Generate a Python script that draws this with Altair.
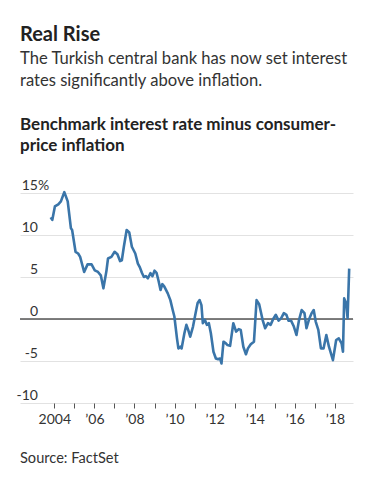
import altair as alt
import pandas as pd

TITLE = "Real Rise"
SUBTITLE = "The Turkish central bank has now set interest\nrates significantly above inflation."
HEADER = "Benchmark interest rate minus consumer-\nprice inflation"
SOURCE = "Source: FactSet"

years = [2003.82, 2003.90, 2004.03, 2004.20, 2004.33, 2004.50, 2004.67, 2004.83, 2004.89, 2005.06,
         2005.19, 2005.29, 2005.49, 2005.66, 2005.86, 2006.02, 2006.18, 2006.32, 2006.45, 2006.60,
         2006.68, 2006.85, 2007.01, 2007.15, 2007.28, 2007.37, 2007.47, 2007.61, 2007.74, 2007.87,
         2008.04, 2008.17, 2008.27, 2008.37, 2008.47, 2008.57, 2008.67, 2008.80, 2008.90, 2009.00,
         2009.10, 2009.20, 2009.30, 2009.39, 2009.49, 2009.66, 2009.79, 2009.91, 2009.99, 2010.12,
         2010.19, 2010.29, 2010.35, 2010.49, 2010.59, 2010.68, 2010.78, 2010.92, 2011.05, 2011.15,
         2011.25, 2011.34, 2011.41, 2011.51, 2011.61, 2011.71, 2011.81, 2011.94, 2012.06, 2012.17,
         2012.27, 2012.34, 2012.44, 2012.56, 2012.64, 2012.77, 2012.93, 2013.07, 2013.20, 2013.30,
         2013.43, 2013.56, 2013.66, 2013.80, 2013.96, 2014.09, 2014.22, 2014.39, 2014.52, 2014.66,
         2014.79, 2014.92, 2015.05, 2015.19, 2015.32, 2015.45, 2015.58, 2015.68, 2015.81, 2015.95,
         2016.08, 2016.21, 2016.34, 2016.48, 2016.58, 2016.70, 2016.84, 2016.94, 2017.04, 2017.17,
         2017.30, 2017.43, 2017.57, 2017.70, 2017.90, 2018.06, 2018.19, 2018.33, 2018.40, 2018.46,
         2018.56, 2018.63, 2018.71]
values = [12.1, 11.8, 13.4, 13.65, 14.0, 15.1, 14.0, 10.8, 10.6, 8.0,
          7.8, 7.4, 5.6, 6.5, 6.5, 5.8, 5.6, 5.2, 3.65, 5.7,
          7.2, 7.4, 8.0, 7.7, 6.9, 7.0, 8.6, 10.6, 10.3, 8.6,
          7.8, 6.6, 6.15, 5.5, 5.0, 5.1, 4.85, 5.45, 5.1, 5.75,
          5.5, 4.55, 3.45, 4.15, 3.85, 3.05, 2.25, 1.05, 0.3, -2.3,
          -3.5, -3.3, -3.5, -1.7, -0.7, -1.3, -2.1, -0.9, 0.7, 1.9,
          2.25, 1.65, -0.5, -0.1, -0.7, -0.5, -1.7, -3.9, -4.7, -4.8,
          -4.7, -5.3, -2.7, -2.9, -3.1, -3.2, -0.5, -1.5, -1.2, -1.3,
          -3.3, -4.2, -3.5, -3.0, -2.7, 2.25, 1.75, -0.1, -1.1, -0.5,
          -0.7, 0.0, 0.5, -0.2, 0.1, 0.7, 0.5, -0.2, -0.2, -0.9,
          -1.9, -0.1, 1.07, 0.7, -1.1, -0.1, 0.7, 1.07, -0.3, -1.3,
          -3.5, -3.5, -1.9, -3.3, -4.9, -2.5, -2.3, -2.9, -3.9, 2.45,
          1.85, 0.1, 6.0]

y_ticks = [-10, -5, 0, 5, 10, 15]
y_tick_labels = ["-10", "-5", "0", "5", "10", "15"]
x_ticks = list(range(2004, 2019))

FONT = "Lato"
TEXT = "#333333"
LINE = "#3a75a9"

df = pd.DataFrame({"year": years, "value": values})
ylab = pd.DataFrame({"v": y_ticks, "label": y_tick_labels})
pct = pd.DataFrame({"v": [y_ticks[-1]], "s": ["%"]})
zero = pd.DataFrame({"v": [0]})

xscale = alt.Scale(domain=[2002.29, 2018.9], nice=False, zero=False)
yscale = alt.Scale(domain=[-10, 15], nice=False, zero=False)

base_line = alt.Chart(df).mark_line(color=LINE, strokeWidth=2.6, strokeJoin="round").encode(
    x=alt.X("year:Q", scale=xscale,
            axis=alt.Axis(values=x_ticks, grid=False, domain=False, tickColor="#555555",
                          tickSize=5, tickWidth=1, labelPadding=4, labelFont=FONT,
                          labelFontSize=14, labelColor=TEXT, title=None, labelFlush=False,
                          labelOverlap=False,
                          labelExpr="datum.value == 2004 ? '2004' : (datum.value % 2 == 0 ? '\u2019' + slice(toString(datum.value), 2) : '')")),
    y=alt.Y("value:Q", scale=yscale,
            axis=alt.Axis(values=y_ticks, grid=True, gridColor="#e2e2e2", gridWidth=1,
                          labels=False, ticks=False, domain=False, title=None)),
)

zero_rule = alt.Chart(zero).mark_rule(color="#555555", strokeWidth=1.3).encode(y=alt.Y("v:Q", scale=yscale))

ylabels = alt.Chart(ylab).mark_text(align="right", baseline="alphabetic", dy=-3, font=FONT,
                                    fontSize=14, color=TEXT).encode(
    y=alt.Y("v:Q", scale=yscale), text="label:N", x=alt.value(18))
pct_lab = alt.Chart(pct).mark_text(align="left", baseline="alphabetic", dy=-3, font=FONT,
                                   fontSize=14, color=TEXT).encode(
    y=alt.Y("v:Q", scale=yscale), text="s:N", x=alt.value(18))

def txt(s, y, size, weight="normal", color=TEXT, lh=None):
    kw = dict(align="left", baseline="alphabetic", font=FONT, fontSize=size, fontWeight=weight,
              color=color, lineBreak="\n")
    if lh:
        kw["lineHeight"] = lh
    return alt.Chart(pd.DataFrame({"t": [s]})).mark_text(**kw).encode(
        text="t:N", x=alt.value(0), y=alt.value(y))

title = txt(TITLE, -152, 20, "bold", "#222222")
sub = txt(SUBTITLE, -129, 16.6, "normal", TEXT, 22)
head = txt(HEADER, -63.5, 17, "bold", "#222222", 21)
src = txt(SOURCE, 270, 14.6, "normal", TEXT)

chart = alt.layer(zero_rule, base_line, ylabels, pct_lab, title, sub, head, src).properties(
    width=333, height=210,
    background="white",
    autosize=alt.AutoSizeParams(type="none"),
    padding={"left": 12, "top": 185, "right": 22, "bottom": 77},
).configure_view(strokeWidth=0)

chart.save("out.html", embed_options={"renderer": "svg", "actions": False})
